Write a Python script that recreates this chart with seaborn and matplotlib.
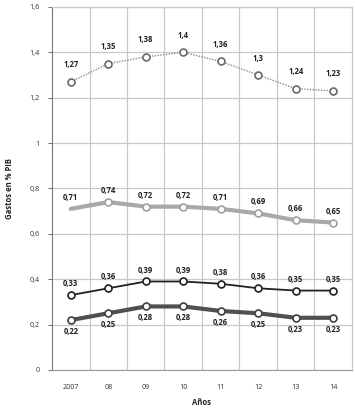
import matplotlib
matplotlib.use("Agg")
import matplotlib.pyplot as plt
import seaborn as sns
import pandas as pd
import numpy as np

years = ["2007", "08", "09", "10", "11", "12", "13", "14"]
s_total = [1.27, 1.35, 1.38, 1.4, 1.36, 1.3, 1.24, 1.23]
s_b = [0.71, 0.74, 0.72, 0.72, 0.71, 0.69, 0.66, 0.65]
s_c = [0.33, 0.36, 0.39, 0.39, 0.38, 0.36, 0.35, 0.35]
s_d = [0.22, 0.25, 0.28, 0.28, 0.26, 0.25, 0.23, 0.23]
yticks = [0, 0.2, 0.4, 0.6, 0.8, 1.0, 1.2, 1.4, 1.6]

sns.set_style("white")
plt.rcParams['font.family'] = ['Open Sans', 'DejaVu Sans']

fig = plt.figure(figsize=(3.55, 4.09), dpi=100)
ax = fig.add_axes([0.1465, 0.0954, 0.845, 0.8876])

x = np.arange(len(years))

def fmt(v):
    s = ("%g" % v).replace(".", ",")
    return s

series = [
    (s_total, dict(color="#8a8a8a", lw=1.0, ls=(0, (1, 1)), mec="#6a6a6a"), 9, "above", True),
    (s_b, dict(color="#a8a8a8", lw=3.0, ls="-", mec="#a0a0a0"), 5, "above", False),
    (s_c, dict(color="#222222", lw=1.3, ls="-", mec="#222222"), 5, "above", True),
    (s_d, dict(color="#505050", lw=3.0, ls="-", mec="#404040"), 5, "below", True),
]

for vals, st, off, pos, first_marker in series:
    df = pd.DataFrame({"x": x, "y": vals})
    sns.lineplot(data=df, x="x", y="y", ax=ax, color=st["color"], lw=st["lw"],
                 linestyle=st["ls"], zorder=3)
    mk = df if first_marker else df.iloc[1:]
    ax.plot(mk["x"], mk["y"], ls="none", marker="o", ms=5.0, mfc="white",
            mec=st["mec"], mew=1.2, zorder=4)
    for xi, v in zip(x, vals):
        if pos == "above":
            ax.annotate(fmt(v), (xi, v), xytext=(0, off), textcoords="offset points",
                        ha="center", va="bottom", fontsize=5.5, fontweight="bold", color="#222222")
        else:
            ax.annotate(fmt(v), (xi, v), xytext=(0, -5), textcoords="offset points",
                        ha="center", va="top", fontsize=5.5, fontweight="bold", color="#222222")

ax.set_xlim(-0.5, len(years) - 0.5)
ax.set_ylim(0, 1.6)
ax.set_yticks(yticks)
ax.set_yticklabels([fmt(t) for t in yticks], fontsize=5.2, color="#333333")
ax.set_xticks(x)
ax.set_xticklabels(years, fontsize=5.2, color="#333333")
for b in np.arange(0.5, len(years) - 0.5, 1.0):
    ax.axvline(b, color="#c8c8c8", lw=0.9, zorder=1)
for t in yticks:
    ax.axhline(t, color="#c8c8c8", lw=0.9, zorder=1)
ax.tick_params(axis="y", length=3, width=0.6, color="#555555", pad=6, left=True)
ax.tick_params(axis="x", length=0, pad=10)
for s in ["top", "right"]:
    ax.spines[s].set_color("#c8c8c8")
    ax.spines[s].set_linewidth(0.9)
ax.spines["left"].set_color("#777777")
ax.spines["bottom"].set_color("#999999")
ax.spines["left"].set_linewidth(0.8)
ax.spines["bottom"].set_linewidth(0.8)

ax.set_xlabel("Años", fontsize=5.5, fontweight="bold", labelpad=5, color="#222222")
ax.set_ylabel("Gastos en % PIB", fontsize=5.5, fontweight="bold", labelpad=11, color="#222222")

fig.savefig("out.png", dpi=100)
